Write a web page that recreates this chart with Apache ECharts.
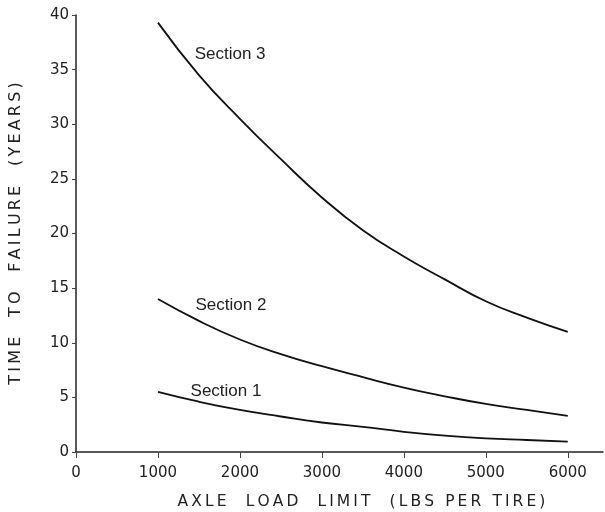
<!DOCTYPE html>
<html>
<head>
<meta charset="utf-8">
<script src="https://cdn.jsdelivr.net/npm/echarts@6/dist/echarts.min.js"></script>
<style>html,body{margin:0;padding:0;background:#fff}#c{width:605px;height:512px}</style>
</head>
<body>
<div id="c"></div>
<script>
var loads = [1000, 1500, 2000, 2500, 3000, 3500, 4000, 4500, 5000, 5500, 6000];
var section3 = [39.3, 34.5, 30.5, 26.8, 23.3, 20.3, 17.9, 15.8, 13.8, 12.3, 11.0];
var section2 = [14.0, 12.0, 10.3, 8.95, 7.85, 6.85, 5.9, 5.1, 4.4, 3.85, 3.3];
var section1 = [5.5, 4.6, 3.85, 3.25, 2.7, 2.3, 1.85, 1.5, 1.25, 1.1, 0.95];
var xTicks = [0, 1000, 2000, 3000, 4000, 5000, 6000];
var seriesNames = ['Section 3', 'Section 2', 'Section 1'];
var labelAt = [[1880, 36.4], [1890, 13.4], [1830, 5.6]];
var xTitle = 'AXLE  LOAD  LIMIT  (LBS PER TIRE)';
var yTitle = 'TIME  TO  FAILURE  (YEARS)';

function pairs(vals){ return loads.map(function(x,i){ return [x, vals[i]]; }); }
function spaced(s){ return s.split('').join('\u2009'); }
var allVals = [section3, section2, section1];
var font = 'DejaVu Sans';

var chart = echarts.init(document.getElementById('c'), null, {renderer:'canvas'});
chart.setOption({
  animation: false,
  backgroundColor: '#ffffff',
  grid: {left: 76, top: 15, right: 2, bottom: 60, containLabel: false, outerBoundsMode: 'none'},
  xAxis: {
    type: 'value', min: 0, max: 6430,
    name: spaced(xTitle),
    nameLocation: 'middle', nameGap: 42,
    nameTextStyle: {fontFamily: font, fontSize: 15.5, color: '#222', padding: [0, 0, 0, 44]},
    axisLine: {lineStyle: {color: '#222', width: 1.5}},
    axisTick: {length: 6, lineStyle: {color: '#444'}, customValues: xTicks},
    axisLabel: {customValues: xTicks, margin: 14, fontFamily: font, fontSize: 15, color: '#222',
      formatter: function(v){ return String(v); }},
    splitLine: {show: false}
  },
  yAxis: {
    type: 'value', min: 0, max: 40, interval: 5,
    name: spaced(yTitle),
    nameLocation: 'middle', nameGap: 52,
    nameTextStyle: {fontFamily: font, fontSize: 16, color: '#222'},
    axisLine: {show: true, lineStyle: {color: '#222', width: 1.5}},
    axisTick: {show: true, length: 4, lineStyle: {color: '#444'}},
    axisLabel: {margin: 7, fontFamily: font, fontSize: 15, color: '#222'},
    splitLine: {show: false}
  },
  series: allVals.map(function(v, k){
    return {
      type: 'line', name: seriesNames[k], data: pairs(v), smooth: 0.5,
      showSymbol: false, symbol: 'none',
      lineStyle: {color: '#111', width: 1.8},
      markPoint: {
        symbol: 'circle', symbolSize: 0,
        label: {show: true, formatter: seriesNames[k], fontFamily: 'Liberation Sans', fontSize: 17, color: '#222', position: 'inside'},
        data: [{coord: labelAt[k]}]
      }
    };
  })
});
</script>
</body>
</html>
